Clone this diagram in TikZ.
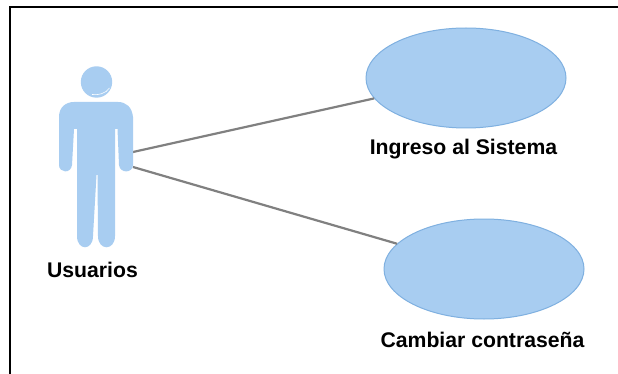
\documentclass[tikz,border=0pt]{standalone}
\usepackage{fontspec}
\setmainfont{Liberation Sans}
\usetikzlibrary{shapes.geometric}
\definecolor{fillblue}{HTML}{A8CDF1}
\definecolor{edgeblue}{HTML}{7FB0E0}
\definecolor{linegray}{HTML}{808080}
\tikzset{
  usecase/.style={ellipse,draw=edgeblue,fill=fillblue,line width=1pt,minimum width=200pt,minimum height=100pt,inner sep=0pt},
  lbl/.style={font=\fontsize{21.2pt}{23pt}\selectfont\bfseries,inner sep=0pt,text=black},
  assoc/.style={draw=linegray,line width=2.2pt},
  body/.style={fill=fillblue,draw=none}
}
\begin{document}
\begin{tikzpicture}[x=1pt,y=-1pt]
\useasboundingbox (0,0) rectangle (618,374);
\fill[white] (0,0) rectangle (618,374);
\draw[black,line width=2pt] (9.5,374) -- (9.5,7) -- (618,7);
\coordinate (actorA) at (133,152);
\coordinate (actorB) at (133,167);
\node[usecase] (uc1) at (466,78) {};
\node[usecase] (uc2) at (484,269) {};
\draw[assoc] (actorA) -- (uc1);
\draw[assoc] (actorB) -- (uc2);
% actor
\fill[body] (96.5,82) circle (15.7);
\draw[white,line width=.6pt] (92,94.5) .. controls (98,95.5) and (106,93.5) .. (109.5,88);
\fill[body] (59,117) .. controls (59,107) and (66,102) .. (74,102) -- (118,102)
  .. controls (126,102) and (132,107) .. (133,117)
  -- (133,165) .. controls (133,173) and (120,174) .. (119,165)
  -- (117.5,129) -- (115,129) -- (115,236)
  .. controls (115,251) and (98,251) .. (98,236)
  -- (97.5,175) -- (96.5,175) -- (93,236)
  .. controls (93,251) and (77,251) .. (77,236)
  -- (77,129) -- (74,129) -- (72,165)
  .. controls (71,174) and (59,173) .. (59,165) -- cycle;
\node[lbl] (usr) at (92.5,270) {Usuarios};
\node[lbl] (t1) at (463.5,149.5) {Ingreso al Sistema};
\node[lbl] (t2) at (482.5,340) {Cambiar contraseña};
\end{tikzpicture}
\end{document}
